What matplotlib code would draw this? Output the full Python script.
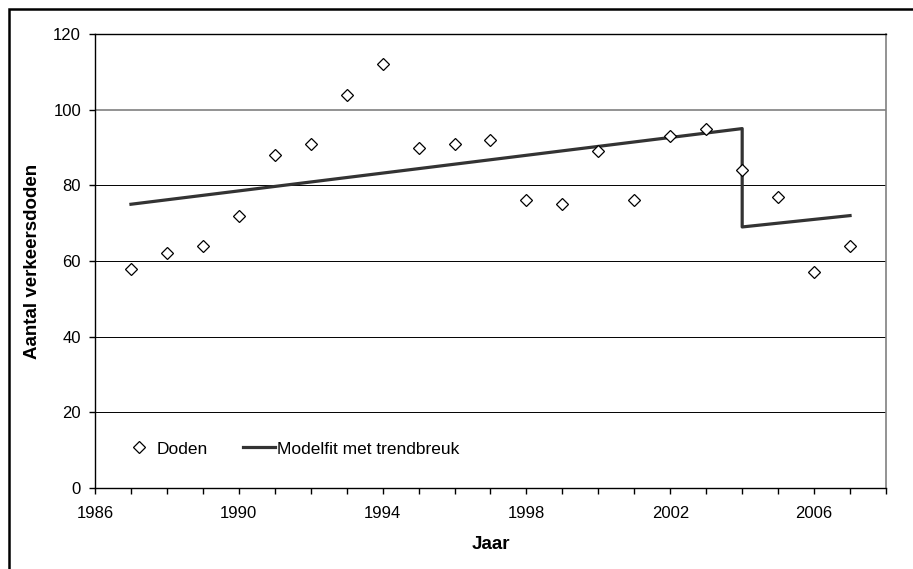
import matplotlib.pyplot as plt
import matplotlib.patches as patches
from matplotlib.ticker import MultipleLocator

plt.rcParams['font.family'] = ['Liberation Sans', 'DejaVu Sans']

# verkeersdoden per jaar
jaren = [1987, 1988, 1989, 1990, 1991, 1992, 1993, 1994, 1995, 1996, 1997,
         1998, 1999, 2000, 2001, 2002, 2003, 2004, 2005, 2006, 2007]
doden = [58, 62, 64, 72, 88, 91, 104, 112, 90, 91, 92,
         76, 75, 89, 76, 93, 95, 84, 77, 57, 64]

# modelfit met trendbreuk in 2004
fit_jaren = [1987, 2004, 2004, 2007]
fit_waarden = [75, 95, 69, 72]

x_ticks = [1986, 1990, 1994, 1998, 2002, 2006]
y_ticks = [0, 20, 40, 60, 80, 100, 120]

fig = plt.figure(figsize=(9.13, 5.69), dpi=100)
ax = fig.add_axes([95 / 913, 81 / 569, 791 / 913, 454 / 569])

# kader rond de hele grafiek
fig.patches.append(patches.Rectangle((9 / 913, -0.1), 1.2, (569 - 9) / 569 + 0.1,
                                     transform=fig.transFigure, fill=False,
                                     edgecolor='black', linewidth=1.8))

for y in y_ticks[1:-1]:
    if y == 100:
        ax.axhline(y, color='#808080', linewidth=1.2, zorder=1)
    else:
        ax.axhline(y, color='black', linewidth=0.7, zorder=1)

ax.plot(jaren, doden, linestyle='none', marker='D', markersize=6.5,
        markerfacecolor='white', markeredgecolor='black', markeredgewidth=0.9,
        label='Doden', zorder=3)
ax.plot(fit_jaren, fit_waarden, color='#333333', linewidth=2.3,
        label='Modelfit met trendbreuk', zorder=2)

ax.set_xlim(1986, 2008)
ax.set_ylim(0, 120)
ax.set_xticks(x_ticks)
ax.xaxis.set_minor_locator(MultipleLocator(1))
ax.set_yticks(y_ticks)
ax.tick_params(axis='both', which='both', direction='out', length=4,
               width=1, labelsize=12, colors='black')
ax.tick_params(axis='x', pad=9)
ax.tick_params(axis='y', pad=6)

ax.spines['top'].set_linewidth(1)
ax.spines['right'].set_color('#808080')
ax.spines['right'].set_linewidth(1.2)
ax.spines['left'].set_linewidth(1)
ax.spines['bottom'].set_linewidth(1)

ax.set_xlabel('Jaar', fontsize=13.5, fontweight='bold', labelpad=11)
ax.set_ylabel('Aantal verkeersdoden', fontsize=13.5, fontweight='bold', labelpad=9)

ax.legend(loc='center left', bbox_to_anchor=(0.0265, 0.086), ncol=2,
          frameon=False, fontsize=12.5, handlelength=1.85, handletextpad=0.1,
          columnspacing=2.0, borderaxespad=0, markerscale=0.9)

fig.savefig('out.png', dpi=100)
